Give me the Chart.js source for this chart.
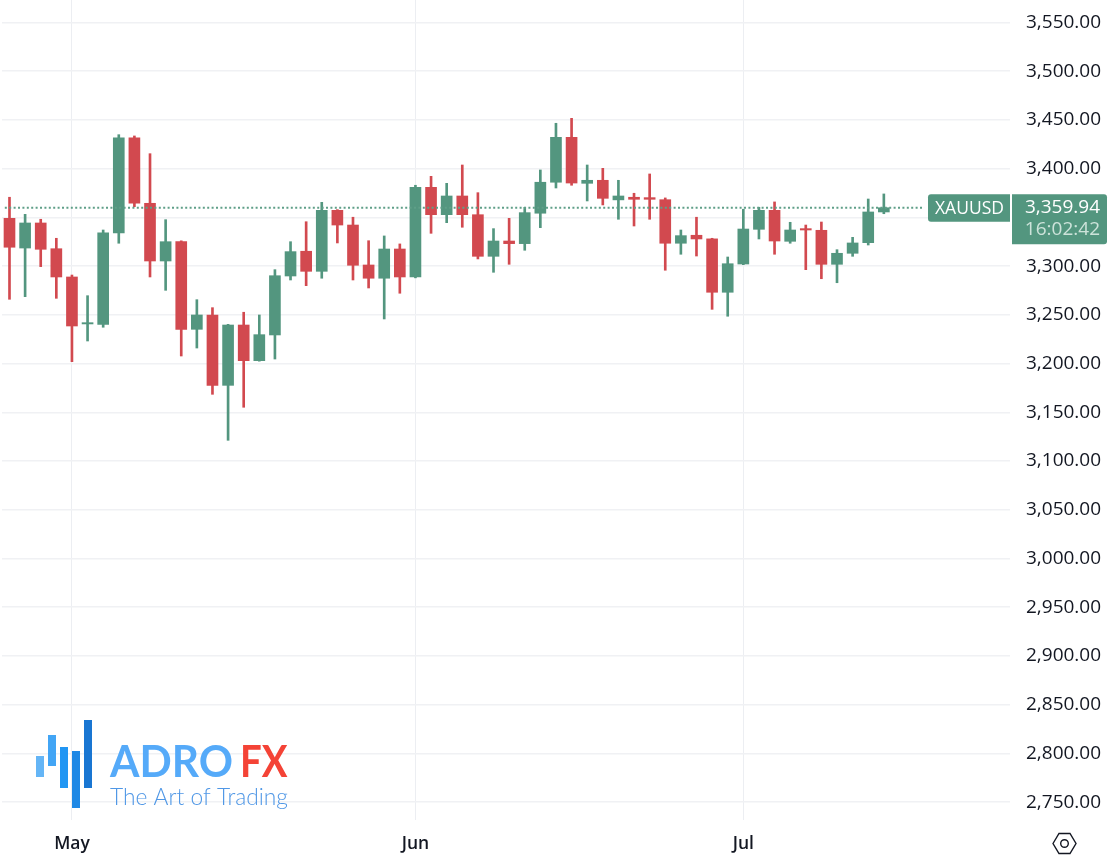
<!DOCTYPE html>
<html><head><meta charset="utf-8">
<style>html,body{margin:0;padding:0;background:#fff}canvas{display:block;filter:blur(0.35px)}</style>
<script src="https://cdn.jsdelivr.net/npm/chart.js@4"></script>
</head><body><canvas id="c" width="1114" height="866"></canvas>
<script>
const opens =[3349.1,3318.6,3344.3,3317.9,3288.9,3240.7,3240.3,3334.0,3431.8,3364.5,3305.3,3325.1,3235.2,3249.9,3177.7,3239.6,3203.0,3229.4,3289.9,3315.3,3294.7,3357.3,3342.2,3301.2,3287.6,3317.6,3288.9,3380.9,3352.8,3372.0,3352.8,3310.1,3325.8,3323.1,3354.3,3386.1,3432.2,3385.0,3388.1,3368.0,3370.7,3370.3,3368.2,3323.5,3331.7,3328.0,3273.2,3302.2,3337.8,3357.3,3325.5,3338.5,3336.8,3301.9,3313.2,3324.1,3355.6];
const closes=[3319.4,3344.3,3317.3,3288.9,3238.6,3242.0,3334.3,3431.8,3364.5,3305.3,3325.1,3235.2,3249.9,3177.7,3239.6,3203.0,3229.7,3290.2,3314.9,3294.7,3357.3,3342.2,3300.9,3287.6,3317.6,3288.9,3380.9,3352.8,3372.0,3352.8,3310.1,3325.8,3323.1,3354.9,3386.1,3432.2,3385.3,3388.1,3369.6,3372.0,3368.6,3368.6,3323.5,3331.3,3327.9,3273.2,3302.5,3338.1,3357.3,3325.8,3337.1,3337.1,3301.9,3313.2,3323.8,3355.6,3359.94];
const highs =[3370.7,3353.2,3348.1,3328.6,3290.9,3269.7,3337.1,3434.9,3433.6,3415.4,3347.7,3326.0,3265.6,3257.4,3240.3,3252.7,3249.9,3296.4,3325.1,3345.6,3365.5,3358.0,3350.2,3326.1,3331.0,3322.8,3383.0,3392.2,3385.0,3403.8,3375.4,3338.5,3349.1,3360.4,3398.7,3446.6,3451.7,3403.8,3400.4,3388.1,3374.8,3394.6,3370.0,3337.1,3350.2,3328.6,3309.4,3358.4,3360.4,3365.9,3345.0,3342.2,3345.3,3316.9,3329.6,3368.9,3374.1];
const lows  =[3266.0,3268.7,3299.5,3267.0,3202.0,3223.2,3237.3,3323.5,3361.0,3288.9,3275.2,3207.8,3216.0,3168.5,3121.3,3155.2,3202.5,3204.7,3285.8,3280.0,3287.6,3323.8,3285.8,3277.6,3245.8,3272.2,3288.0,3333.7,3344.6,3339.9,3307.4,3293.7,3301.9,3316.3,3339.5,3380.2,3383.0,3366.9,3362.8,3348.1,3341.2,3348.1,3295.8,3312.2,3310.4,3255.7,3248.6,3301.5,3327.9,3312.2,3323.5,3296.4,3287.1,3283.0,3310.1,3321.7,3353.8];
const monthLabels=['May','Jun','Jul'];
const monthIndexes=[4,26,47];
const priceTicks=[3550,3500,3450,3400,3350,3300,3250,3200,3150,3100,3050,3000,2950,2900,2850,2800,2750];
const lastPrice=3359.94;
const symbol='XAUUSD';
const countdown='16:02:42';
const UP='#53967f',DOWN='#d2494f';
const FONT='"Open Sans"';

const idx=opens.map((_,i)=>i);
const colors=idx.map(i=>closes[i]>=opens[i]?UP:DOWN);
const fmt=v=>v.toLocaleString('en-US',{minimumFractionDigits:2,maximumFractionDigits:2});

const overlay={id:'overlay',afterDraw(ch){
  const c=ch.ctx, y=ch.scales.y.getPixelForValue(lastPrice);
  c.save();
  c.fillStyle=UP;
  c.beginPath();c.roundRect(928,y-13.5,82,27.5,[3,0,0,3]);c.fill();
  c.beginPath();c.roundRect(1012,y-13.5,95,50,[0,3,3,0]);c.fill();
  c.textBaseline='middle';c.textAlign='left';
  c.fillStyle='#fff';c.font='500 17.5px '+FONT;
  c.fillText(symbol,935,y+1);
  c.textAlign='right';c.font='19px '+FONT;
  c.fillText(fmt(lastPrice),1100,y);
  c.fillStyle='#cde3da';
  c.fillText(countdown,1100,y+22);
  const hx=1064.5,hy=843.5;
  c.strokeStyle='#131722';c.lineWidth=1.4;
  c.beginPath();
  c.moveTo(hx-11.5,hy);c.lineTo(hx-5.5,hy-10);c.lineTo(hx+5.5,hy-10);c.lineTo(hx+11.5,hy);c.lineTo(hx+5.5,hy+10);c.lineTo(hx-5.5,hy+10);c.closePath();c.stroke();
  c.beginPath();c.arc(hx,hy,3.8,0,Math.PI*2);c.stroke();
  [[36,756,8,21,'#64b5f6'],[48,735,8,31,'#42a5f5'],[60,747,8,41,'#2196f3'],[72,751,8,57,'#1e88e5'],[84,720,8,68,'#1976d2']]
   .forEach(b=>{c.fillStyle=b[4];c.fillRect(b[0],b[1],b[2],b[3]);});
  c.textAlign='left';c.textBaseline='alphabetic';
  c.font='700 44px Lato';c.fillStyle='#55aaf9';
  c.fillText('ADRO',110,777,123);
  c.fillStyle='#f44336';
  c.fillText('FX',240,777,47.5);
  c.font='300 23px Lato';c.fillStyle='#4f97e6';
  c.fillText('The Art of Trading',110,805,178);
  c.restore();
}};

new Chart(document.getElementById('c'),{
  data:{datasets:[
    {type:'line',order:0,data:[{x:-0.3,y:lastPrice},{x:58.6,y:lastPrice}],borderColor:'#5f9f88',borderWidth:2,borderDash:[2,2.4],pointRadius:0,fill:false},
    {type:'bar',order:1,grouped:false,barThickness:11,data:idx.map(i=>({x:i,y:[opens[i],closes[i]]})),backgroundColor:colors},
    {type:'bar',order:2,grouped:false,barThickness:2,data:idx.map(i=>({x:i,y:[lows[i],highs[i]]})),backgroundColor:colors}
  ]},
  options:{
    responsive:false,animation:false,
    layout:{padding:{left:2,right:0,top:0,bottom:0}},
    plugins:{legend:{display:false},tooltip:{enabled:false}},
    scales:{
      x:{type:'linear',offset:false,min:-0.48,max:64.08,
        afterBuildTicks(s){s.ticks=monthIndexes.map(v=>({value:v}));},
        afterFit(s){s.height=46;s.paddingLeft=0;s.paddingRight=0;},
        border:{display:false},
        grid:{offset:false,color:'#eceef2',lineWidth:1,drawTicks:false},
        ticks:{autoSkip:false,maxRotation:0,padding:14,color:'#131722',font:{family:FONT,size:17.5,weight:'600'},
          callback(v){const k=monthIndexes.indexOf(v);return k<0?'':monthLabels[k];}}},
      y:{type:'linear',position:'right',min:2731.7,max:3573.1,
        afterBuildTicks(s){s.ticks=priceTicks.map(v=>({value:v}));},
        afterFit(s){s.width=104;s.paddingTop=0;s.paddingBottom=0;},
        border:{display:false},
        grid:{color:'#f0f1f4',lineWidth:1.6,drawTicks:false},
        ticks:{autoSkip:false,padding:16,color:'#131722',font:{family:FONT,size:19},callback:v=>fmt(v)}}
    }
  },
  plugins:[overlay]
});
</script></body></html>
